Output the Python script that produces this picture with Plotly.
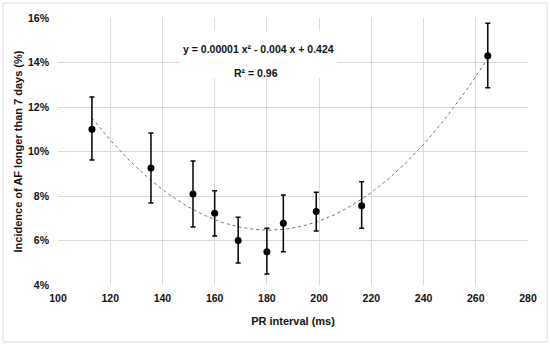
import numpy as np
import plotly.graph_objects as go

pr_interval = [113, 135.6, 151.7, 160, 169, 180, 186.3, 198.9, 216.3, 264.6]
incidence = [11.0, 9.26, 8.09, 7.22, 6.0, 5.5, 6.77, 7.3, 7.56, 14.3]
err_upper = [12.45, 10.83, 9.57, 8.24, 7.04, 6.55, 8.04, 8.17, 8.64, 15.76]
err_lower = [9.62, 7.69, 6.61, 6.2, 4.99, 4.49, 5.5, 6.43, 6.55, 12.87]

x_ticks = [100, 120, 140, 160, 180, 200, 220, 240, 260, 280]
y_ticks = [4, 6, 8, 10, 12, 14, 16]
y_tick_labels = ["4%", "6%", "8%", "10%", "12%", "14%", "16%"]

x = np.array(pr_interval)
y = np.array(incidence)
coef = np.polyfit(x, y, 2)
xs = np.linspace(x.min(), x.max(), 200)
ys = np.polyval(coef, xs)

FONT = "Liberation Sans, Arial, sans-serif"
TXT = "#111111"

fig = go.Figure()
fig.add_trace(go.Scatter(
    x=xs, y=ys, mode="lines",
    line=dict(color="#707070", width=1, dash="dot"),
    hoverinfo="skip", showlegend=False,
))
fig.add_trace(go.Scatter(
    x=pr_interval, y=incidence, mode="markers",
    marker=dict(color="black", size=7),
    error_y=dict(
        type="data", symmetric=False,
        array=[u - v for u, v in zip(err_upper, incidence)],
        arrayminus=[v - l for v, l in zip(incidence, err_lower)],
        color="black", thickness=1.5, width=2.5,
    ),
    showlegend=False,
))

# white label box hiding gridlines behind the equation
fig.add_shape(
    type="rect", xref="x", yref="y",
    x0=146.7, x1=206.9, y0=13.3, y1=15.42,
    fillcolor="white", line=dict(width=0), layer="between",
)
fig.add_annotation(
    x=176.8, y=14.6, xref="x", yref="y",
    text="<b>y = 0.00001 x² - 0.004 x + 0.424</b>",
    showarrow=False, font=dict(family=FONT, size=10.5, color=TXT),
)
fig.add_annotation(
    x=176.0, y=13.53, xref="x", yref="y",
    text="<b>R² = 0.96</b>",
    showarrow=False, font=dict(family=FONT, size=10.5, color=TXT),
)

# outer chart border
fig.add_shape(
    type="rect", xref="paper", yref="paper",
    x0=-0.117, x1=1.0404, y0=-0.2135, y1=1.056,
    line=dict(color="#dcdcdc", width=1), layer="below",
)

fig.update_layout(
    width=550, height=347,
    margin=dict(l=58, r=22, t=18, b=62),
    paper_bgcolor="white", plot_bgcolor="white",
    font=dict(family=FONT, size=10.5, color=TXT),
    xaxis=dict(
        range=[100, 280], tickvals=x_ticks,
        ticktext=["<b>%d</b>" % v for v in x_ticks],
        showgrid=True, gridcolor="#d9d9d9", gridwidth=1,
        zeroline=False, showline=False, automargin=False,
        tickfont=dict(family=FONT, size=10.5, color=TXT, weight="bold"),
        ticklabelstandoff=5,
        title=dict(text="<b>PR interval (ms)</b>", font=dict(size=11, color=TXT), standoff=14),
        ticks="",
    ),
    yaxis=dict(
        range=[4, 16], tickvals=y_ticks,
        ticktext=["<b>%s</b>" % t for t in y_tick_labels],
        showgrid=True, gridcolor="#d9d9d9", gridwidth=1,
        zeroline=False, showline=False, automargin=False,
        tickfont=dict(family=FONT, size=10.5, color=TXT, weight="bold"),
        ticklabelstandoff=8,
        title=dict(text="<b>Incidence of AF longer than 7 days (%)</b>", font=dict(size=11, color=TXT), standoff=3),
        ticks="",
    ),
)

fig.write_html("out.html", config={"displayModeBar": False},
               post_script="document.body.style.margin='0';")
